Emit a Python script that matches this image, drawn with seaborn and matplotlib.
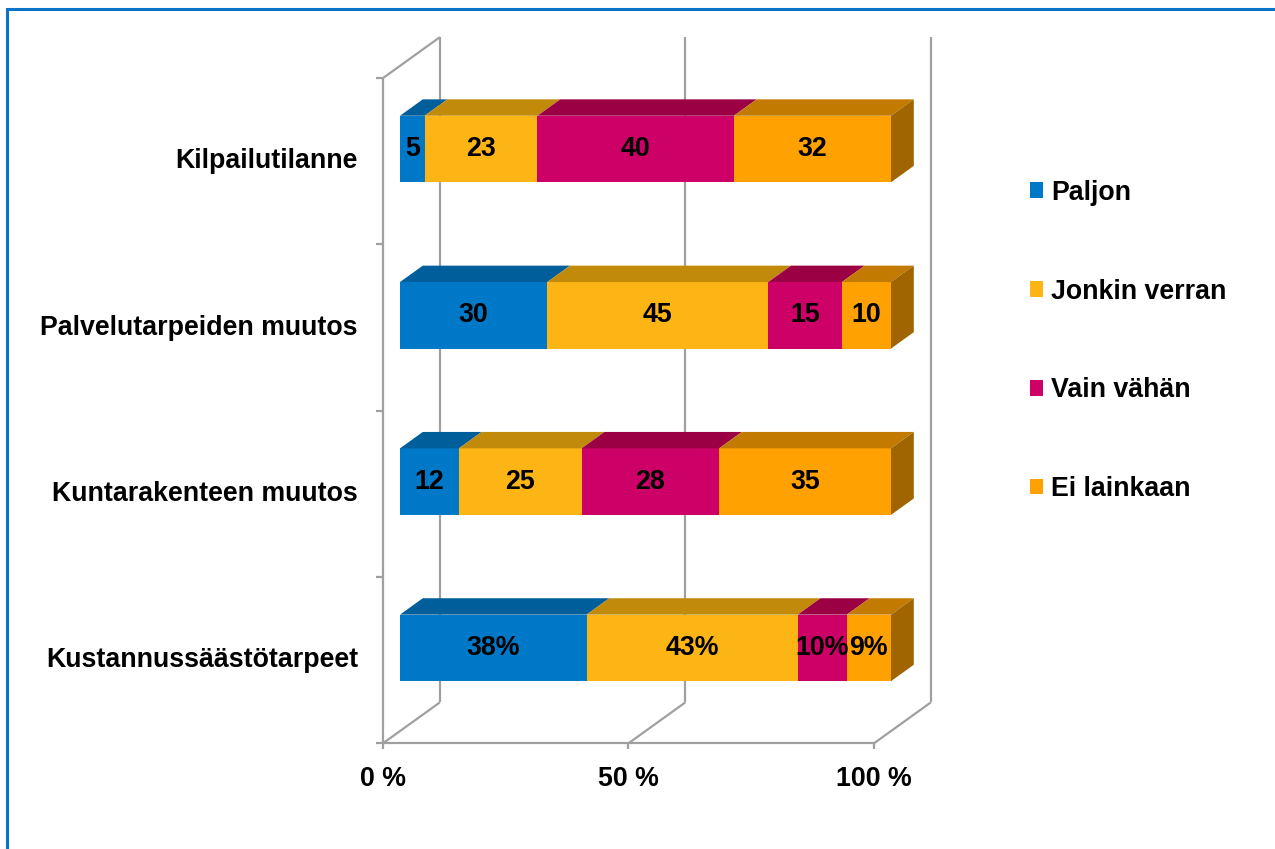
import numpy as np
import pandas as pd
import matplotlib
matplotlib.use("Agg")
import matplotlib.pyplot as plt
import seaborn as sns
from matplotlib.patches import Polygon, Rectangle

# ---------------- data ----------------
categories = ["Kilpailutilanne", "Palvelutarpeiden muutos",
              "Kuntarakenteen muutos", "Kustannussäästötarpeet"]
series_names = ["Paljon", "Jonkin verran", "Vain vähän", "Ei lainkaan"]
paljon = [5, 30, 12, 38]
jonkin_verran = [23, 45, 25, 43]
vain_vahan = [40, 15, 28, 10]
ei_lainkaan = [32, 10, 35, 9]
label_suffix = ["", "", "", "%"]
x_ticks = [0, 50, 100]
x_tick_labels = ["0 %", "50 %", "100 %"]

# ---------------- style ----------------
front_colors = ["#0078C8", "#FDB515", "#CC0066", "#FFA100"]
top_colors = ["#005E9A", "#C28A0B", "#9B0045", "#C27B00"]
side_color = "#A06500"
grid_color = "#A0A0A0"

W, H, DPI = 1275, 849, 100
sns.set_theme(style="white")
plt.rcParams['font.family'] = ['Liberation Sans', 'DejaVu Sans']
plt.rcParams['text.color'] = 'black'
FS = 19.3

fig = plt.figure(figsize=(W / DPI, H / DPI), dpi=DPI)
fig.patch.set_facecolor("white")

# pixel geometry of the bar (front face) plane
X0_PX, PX_PER_PCT = 400.0, 4.91
Y0_PX, PX_PER_CAT = 149.0, 166.3
AX_L, AX_R, AX_T, AX_B = 340, 960, 20, 810
ax = fig.add_axes([AX_L / W, 1 - AX_B / H, (AX_R - AX_L) / W, (AX_B - AX_T) / H])


def px_dx(p):
    return p / PX_PER_PCT


def px_dy(p):
    return p / PX_PER_CAT


# ---------------- bars (front faces) ----------------
values = np.array([paljon, jonkin_verran, vain_vahan, ei_lainkaan], dtype=float)
cum = np.cumsum(values, axis=0)
starts = cum - values

df = pd.DataFrame({"category": categories})
for j, name in enumerate(series_names):
    df[name] = cum[j]

for j in range(len(series_names) - 1, -1, -1):
    sns.barplot(data=df, x=series_names[j], y="category", orient="h",
                color=front_colors[j], saturation=1, width=0.4,
                errorbar=None, linewidth=0, edgecolor="none", ax=ax, zorder=3)

# axes mapping
ax.set_xlim(px_dx(AX_L - X0_PX), px_dx(AX_R - X0_PX))
ax.set_ylim(px_dy(AX_B - Y0_PX), px_dy(AX_T - Y0_PX))
ax.axis("off")

# ---------------- 3D walls ----------------
DEPTH = (px_dx(57), -px_dy(41))          # full depth vector (data units)
F_FRONT, F_BACK = -0.30, 0.70            # planes relative to bar front plane
F_BAR = 0.40                             # bar depth
fx, fy = DEPTH[0] * F_FRONT, DEPTH[1] * F_FRONT
bx, by = DEPTH[0] * F_BACK, DEPTH[1] * F_BACK
n = len(categories)
floor_y, top_y = n - 0.5, -0.5
lw = 1.6
lkw = dict(color=grid_color, lw=lw, solid_capstyle="butt", zorder=1)

# back wall gridlines
for v in x_ticks:
    ax.plot([v + bx, v + bx], [floor_y + by, top_y + by], **lkw)
# floor diagonals
for v in x_ticks:
    ax.plot([v + fx, v + bx], [floor_y + fy, floor_y + by], **lkw)
# front floor axis
ax.plot([x_ticks[0] + fx, x_ticks[-1] + fx], [floor_y + fy, floor_y + fy], **lkw)
# front left axis
ax.plot([fx, fx], [floor_y + fy, top_y + fy], **lkw)
# top-left diagonal
ax.plot([fx, bx], [top_y + fy, top_y + by], **lkw)
# ticks on the left axis
for k in range(n + 1):
    yk = k - 0.5 + fy
    ax.plot([fx - px_dx(7), fx], [yk, yk], **lkw)
# ticks on the bottom axis
for v in x_ticks:
    ax.plot([v + fx, v + fx], [floor_y + fy, floor_y + fy + px_dy(6)], **lkw)

# ---------------- 3D bar faces ----------------
dx, dy = DEPTH[0] * F_BAR, DEPTH[1] * F_BAR
half = 0.2
for i in range(n):
    yt, yb = i - half, i + half
    for j in range(len(series_names)):
        x0, x1 = starts[j, i], cum[j, i]
        ax.add_patch(Polygon([(x0, yt), (x1, yt), (x1 + dx, yt + dy), (x0 + dx, yt + dy)],
                             closed=True, facecolor=top_colors[j], edgecolor="none", zorder=3))
    xe = cum[-1, i]
    ax.add_patch(Polygon([(xe, yt), (xe + dx, yt + dy), (xe + dx, yb + dy), (xe, yb)],
                         closed=True, facecolor=side_color, edgecolor="none", zorder=3))
    # data labels
    for j in range(len(series_names)):
        xc = (starts[j, i] + cum[j, i]) / 2
        ax.text(xc, i, f"{int(values[j, i])}{label_suffix[i]}", ha="center", va="center",
                fontsize=FS, fontweight="bold", color="black", zorder=5)

# category labels
for i, c in enumerate(categories):
    ax.text(px_dx(358 - X0_PX), i + fy, c, ha="right", va="center",
            fontsize=FS, fontweight="bold", color="black")

# x tick labels
for v, t in zip(x_ticks, x_tick_labels):
    ax.text(v + fx, px_dy(779 - Y0_PX), t, ha="center", va="center",
            fontsize=FS, fontweight="bold", color="black")

# ---------------- legend ----------------
handles = [Rectangle((0, 0), 1, 1, facecolor=c, edgecolor="none") for c in front_colors]
fig.legend(handles, series_names, loc="center left",
           bbox_to_anchor=(1030 / W, 1 - 341 / H), bbox_transform=fig.transFigure,
           frameon=False, prop={"weight": "bold", "size": FS}, labelcolor="black",
           handlelength=0.5, handleheight=0.5, handletextpad=0.3,
           labelspacing=2.72, borderpad=0, borderaxespad=0)

# ---------------- outer border ----------------
fig.add_artist(Rectangle((7 / W, -0.1), 1.2, 1.1 - 8.5 / H, transform=fig.transFigure,
                         fill=False, edgecolor="#0A74C6", lw=2.2))

fig.savefig("out.png", dpi=DPI, facecolor="white")
